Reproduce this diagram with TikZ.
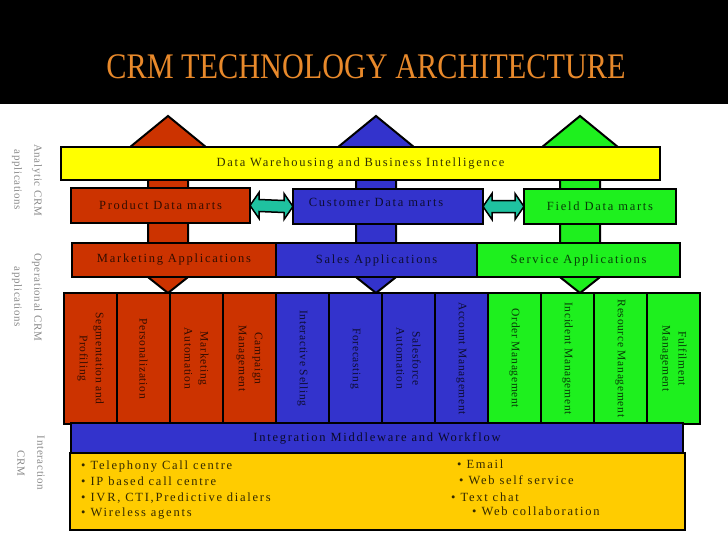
\documentclass[tikz,border=0pt]{standalone}
\usepackage{fontspec}
\setmainfont{Liberation Serif}
\newfontfamily\titlefont[FakeStretch=0.84]{Liberation Serif}
\newfontfamily\boxfont[LetterSpace=14]{Liberation Serif}
\newfontfamily\colfont[LetterSpace=6]{Liberation Serif}
\newfontfamily\sidefont[LetterSpace=6]{Liberation Serif}
\usetikzlibrary{calc}
\definecolor{crmred}{HTML}{CC3300}
\definecolor{crmblue}{HTML}{3333CC}
\definecolor{crmgreen}{HTML}{1EF01E}
\definecolor{crmyellow}{HTML}{FFFF00}
\definecolor{crmgold}{HTML}{FFCC00}
\definecolor{crmteal}{HTML}{1FC2A0}
\definecolor{titleorange}{HTML}{E8892B}
\definecolor{sidegray}{HTML}{8A8A8A}
\tikzset{
  crmbox/.style={draw=black, line width=2.5pt, inner sep=0pt, outer sep=0pt,
    font=\boxfont\fontsize{12.5}{12.5}\selectfont},
  colbox/.style={crmbox, rotate=-90, minimum width=131pt, minimum height=53pt,
    align=center, font=\colfont\fontsize{11.5}{16}\selectfont},
  sidelabel/.style={rotate=-90, align=center, text=sidegray,
    font=\sidefont\fontsize{11}{20}\selectfont},
  itemtext/.style={anchor=base west, inner sep=0pt,
    font=\boxfont\fontsize{12.5}{12.5}\selectfont, text=crmgold!20!black},
  duplex/.style={fill=crmteal, draw=black, line width=1.5pt, line join=miter},
  bigarrow/.style={draw=black, line width=2pt, line join=miter}
}
\newcommand{\vdarrow}[2]{%
  \filldraw[bigarrow, fill=#2] (#1,116) -- (#1+44,152) -- (#1+20,152) -- (#1+20,258)
    -- (#1+44,258) -- (#1,293) -- (#1-44,258) -- (#1-20,258) -- (#1-20,152)
    -- (#1-44,152) -- cycle;}
\begin{document}
\begin{tikzpicture}[x=1pt,y=-1pt]
\useasboundingbox (0,0) rectangle (728,546);
\fill[white] (0,0) rectangle (728,546);
\fill[black] (0,0) rectangle (728,104);
\node[font=\titlefont\fontsize{36}{36}\selectfont, text=titleorange, anchor=base, inner sep=0pt]
  (title) at (366,78) {CRM TECHNOLOGY ARCHITECTURE};

% vertical double arrows
\vdarrow{168}{crmred}
\vdarrow{376}{crmblue}
\vdarrow{580}{crmgreen}

% analytic layer
\node[crmbox, fill=crmyellow, minimum width=599pt, minimum height=33pt, text=crmyellow!20!black]
  (dw) at (360.5,163.5) {Data Warehousing and Business Intelligence};
\node[crmbox, fill=crmred, minimum width=179pt, minimum height=35pt, text=crmred!25!black]
  (pdm) at (160.5,205.5) {Product Data marts};
\node[crmbox, fill=crmblue, minimum width=190pt, minimum height=35pt]
  (cdm) at (388,206.5) {};
\node[font=\boxfont\fontsize{12.5}{12.5}\selectfont, text=crmblue!25!black, inner sep=0pt]
  (cdmlabel) at (376,202) {Customer Data marts};
\node[crmbox, fill=crmgreen, minimum width=152pt, minimum height=35pt, text=crmgreen!25!black]
  (fdm) at (600,206.5) {Field Data marts};

% teal double arrows
\filldraw[duplex] (pdm.east) -- ($(pdm.east)+(9,-13)$) -- ($(pdm.east)+(9,-6)$)
  -- ($(cdm.west)+(-9,-6)$) -- ($(cdm.west)+(-9,-13)$) -- (cdm.west)
  -- ($(cdm.west)+(-9,13)$) -- ($(cdm.west)+(-9,6)$) -- ($(pdm.east)+(9,6)$)
  -- ($(pdm.east)+(9,13)$) -- cycle;
\filldraw[duplex] (cdm.east) -- ($(cdm.east)+(9,-13)$) -- ($(cdm.east)+(9,-6)$)
  -- ($(fdm.west)+(-9,-6)$) -- ($(fdm.west)+(-9,-13)$) -- (fdm.west)
  -- ($(fdm.west)+(-9,13)$) -- ($(fdm.west)+(-9,6)$) -- ($(cdm.east)+(9,6)$)
  -- ($(cdm.east)+(9,13)$) -- cycle;

% application bar
\node[crmbox, fill=crmred, minimum width=204pt, minimum height=34pt, text=crmred!25!black]
  (mkt) at (174,260) {Marketing Applications};
\node[crmbox, fill=crmblue, minimum width=201pt, minimum height=34pt, text=crmblue!25!black]
  (sales) at (376.5,260) {Sales Applications};
\node[crmbox, fill=crmgreen, minimum width=203pt, minimum height=34pt, text=crmgreen!25!black]
  (svc) at (578.5,260) {Service Applications};

% operational columns
\foreach \i/\col/\txt in {
  1/crmred/{Segmentation and\\Profiling},
  2/crmred/{Personalization},
  3/crmred/{Marketing\\Automation},
  4/crmred/{Campaign\\Management},
  5/crmblue/{Interactive Selling},
  6/crmblue/{Forecasting},
  7/crmblue/{Salesforce\\Automation},
  8/crmblue/{Account Management},
  9/crmgreen/{Order Management},
  10/crmgreen/{Incident Management},
  11/crmgreen/{Resource Management},
  12/crmgreen/{Fulfilment\\Management}} {
  \node[colbox, fill=\col, text=\col!25!black] (col\i) at ({64+53*\i-26.5},358.5) {\txt};
}

% integration middleware
\node[crmbox, fill=crmblue, minimum width=612pt, minimum height=30pt, text=crmblue!20!black]
  (mid) at (377,438) {Integration Middleware and Workflow};
\node[crmbox, fill=crmgold, minimum width=615pt, minimum height=77pt]
  (inter) at (377.5,491.5) {};

% interaction channels
\node[itemtext] (i1) at (81,469) {•\hspace{5pt}Telephony Call centre};
\node[itemtext] (i2) at (81,485) {•\hspace{5pt}IP based call centre};
\node[itemtext] (i3) at (81,501) {•\hspace{5pt}IVR, CTI,Predictive dialers};
\node[itemtext] (i4) at (81,516) {•\hspace{5pt}Wireless agents};
\node[itemtext] (i5) at (457,468) {•\hspace{5pt}Email};
\node[itemtext] (i6) at (459,484) {•\hspace{5pt}Web self service};
\node[itemtext] (i7) at (451,501) {•\hspace{5pt}Text chat};
\node[itemtext] (i8) at (472,515) {•\hspace{5pt}Web collaboration};

% side labels
\node[sidelabel] (lab1) at (27,180) {Analytic CRM\\applications};
\node[sidelabel] (lab2) at (27,297) {Operational CRM\\applications};
\node[sidelabel] (lab3) at (31,463) {Interaction\\CRM};
\end{tikzpicture}
\end{document}
